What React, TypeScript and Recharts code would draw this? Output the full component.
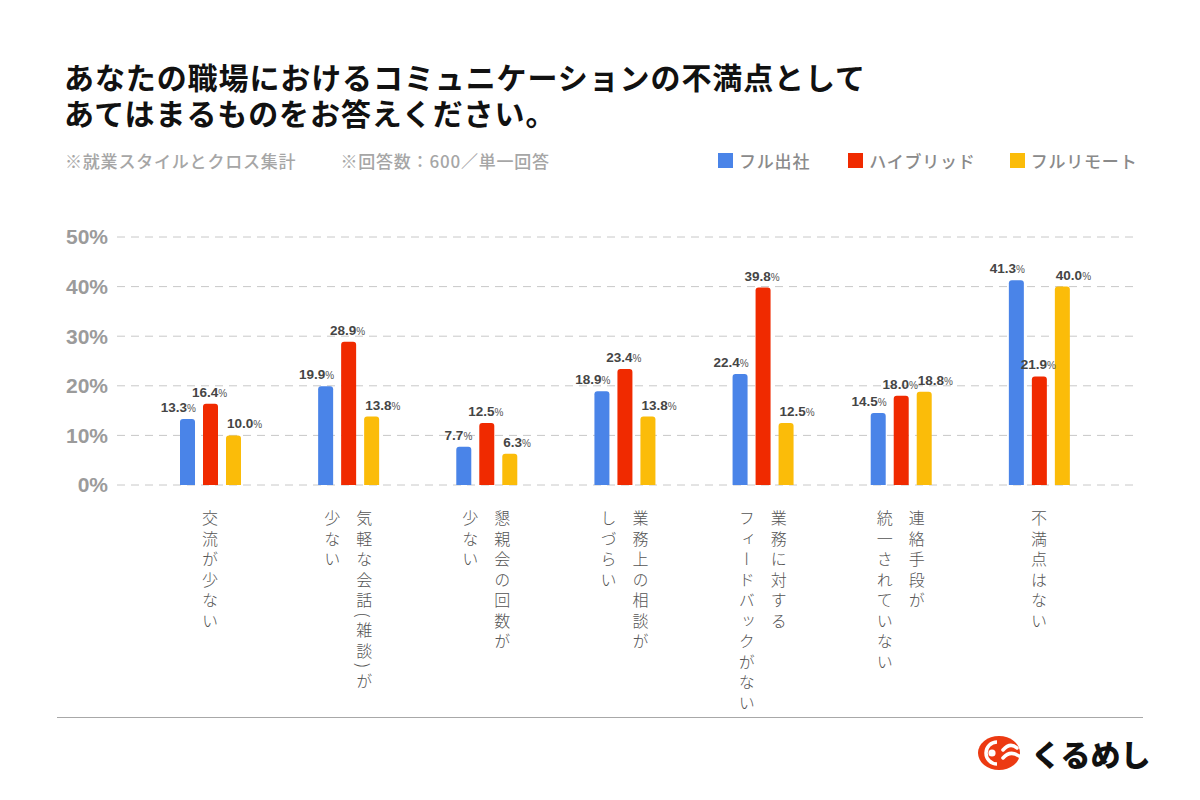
import { Bar, BarChart, CartesianGrid, LabelList, XAxis, YAxis } from "recharts";

// 設問カテゴリ（改行は縦書きの列区切り）
const categories = [
  "交流が少ない",
  "気軽な会話(雑談)が\n少ない",
  "懇親会の回数が\n少ない",
  "業務上の相談が\nしづらい",
  "業務に対する\nフィードバックがない",
  "連絡手段が\n統一されていない",
  "不満点はない",
];

const fullOffice = [13.3, 19.9, 7.7, 18.9, 22.4, 14.5, 41.3];
const hybrid = [16.4, 28.9, 12.5, 23.4, 39.8, 18.0, 21.9];
const fullRemote = [10.0, 13.8, 6.3, 13.8, 12.5, 18.8, 40.0];

const yTicks = [0, 10, 20, 30, 40, 50];

const titleLines = [
  "あなたの職場におけるコミュニケーションの不満点として",
  "あてはまるものをお答えください。",
];

const seriesNames = ["フル出社", "ハイブリッド", "フルリモート"];
const seriesKeys = ["fullOffice", "hybrid", "fullRemote"];
const seriesColors = ["#4a84e8", "#f02a00", "#fbbc09"];

const chartData = categories.map((name, i) => ({
  name,
  fullOffice: fullOffice[i],
  hybrid: hybrid[i],
  fullRemote: fullRemote[i],
}));

const JP_FONT = '"Noto Sans CJK JP", "Noto Sans", sans-serif';
const NUM_FONT = '"Liberation Sans", Arial, sans-serif';

function CategoryTick({ x, y, payload }: any) {
  const lines = String(payload.value).split("\n");
  return (
    <foreignObject x={x - 80} y={y + 25} width={160} height={225}>
      <div style={{ display: "flex", justifyContent: "center", width: "100%" }}>
        <div
          style={{
            writingMode: "vertical-rl",
            fontFamily: JP_FONT,
            fontSize: 16,
            fontWeight: 300,
            letterSpacing: 4.5,
            lineHeight: "32px",
            color: "#555",
            whiteSpace: "nowrap",
          }}
        >
          {lines.map((l, i) => (
            <div key={i}>{l}</div>
          ))}
        </div>
      </div>
    </foreignObject>
  );
}

// 値ラベル：フル出社は右揃え、ハイブリッドは中央、フルリモートは左揃え
function makeValueLabel(anchor: "end" | "middle" | "start") {
  return function ValueLabel(props: any) {
    const { x, y, width, value } = props;
    const lx =
      anchor === "end" ? x + width + 1 : anchor === "middle" ? x + width / 2 - 1 : x + 1;
    return (
      <text x={lx} y={y - 7} textAnchor={anchor} fontFamily={NUM_FONT}>
        <tspan fontSize={13.5} fontWeight={700} fill="#454545">
          {Number(value).toFixed(1)}
        </tspan>
        <tspan fontSize={10} fill="#555">
          %
        </tspan>
      </text>
    );
  };
}

const anchors: ("end" | "middle" | "start")[] = ["end", "middle", "start"];

function Logo() {
  return (
    <div
      style={{
        position: "absolute",
        left: 977,
        top: 731,
        display: "flex",
        alignItems: "center",
      }}
    >
      <svg width={48} height={38} viewBox="0 0 48 38">
        <ellipse cx={22} cy={19} rx={21} ry={17} fill="#ec3a12" />
        <path d="M20 8 A 11 11 0 1 0 20 30" fill="none" stroke="#fff" strokeWidth={3.5} />
        <circle cx={15} cy={19} r={3.6} fill="#fff" />
        <path d="M26 16 Q 33 8 40 14" fill="none" stroke="#fff" strokeWidth={3.5} strokeLinecap="round" />
        <path d="M26 24 Q 33 16 42 22" fill="none" stroke="#fff" strokeWidth={3.5} strokeLinecap="round" />
      </svg>
      <span
        style={{
          fontFamily: JP_FONT,
          fontWeight: 900,
          fontSize: 30,
          color: "#111",
          marginLeft: 6,
        }}
      >
        くるめし
      </span>
    </div>
  );
}

export default function App() {
  return (
    <div
      style={{
        position: "absolute",
        left: 0,
        top: 0,
        width: 1200,
        height: 800,
        background: "#fff",
        fontFamily: JP_FONT,
        overflow: "hidden",
      }}
    >
      {titleLines.map((t, i) => (
        <div
          key={i}
          style={{
            position: "absolute",
            left: 64,
            top: 61 + i * 36,
            fontSize: 30,
            fontWeight: 700,
            letterSpacing: 0.9,
            lineHeight: "30px",
            color: "#111",
            whiteSpace: "nowrap",
          }}
        >
          {t}
        </div>
      ))}

      <div
        style={{
          position: "absolute",
          left: 65,
          top: 148,
          fontSize: 17,
          fontWeight: 500,
          letterSpacing: 0.8,
          color: "#a6a6a6",
          whiteSpace: "nowrap",
        }}
      >
        ※就業スタイルとクロス集計
        <span style={{ marginLeft: 44 }}>※回答数：600／単一回答</span>
      </div>

      <div
        style={{
          position: "absolute",
          left: 718,
          top: 148,
          display: "flex",
          alignItems: "center",
          fontSize: 17,
          fontWeight: 500,
          letterSpacing: 0.8,
          color: "#8a8a8a",
          whiteSpace: "nowrap",
        }}
      >
        {seriesNames.map((n, i) => (
          <div
            key={n}
            style={{ display: "flex", alignItems: "center", marginRight: i === 0 ? 38 : 34 }}
          >
            <span
              style={{
                display: "inline-block",
                width: 15,
                height: 15,
                background: seriesColors[i],
                marginRight: 6,
              }}
            />
            {n}
          </div>
        ))}
      </div>

      <div style={{ position: "absolute", left: 0, top: 0 }}>
        <BarChart
          width={1200}
          height={720}
          data={chartData}
          margin={{ top: 237, right: 65, bottom: 0, left: 0 }}
          barSize={15}
          barGap={8}
        >
          <CartesianGrid vertical={false} stroke="#c8c8c8" strokeDasharray="8 6" />
          <XAxis
            dataKey="name"
            axisLine={false}
            tickLine={false}
            tickSize={0}
            tickMargin={0}
            height={235}
            interval={0}
            padding={{ left: 24, right: 27 }}
            tick={<CategoryTick />}
          />
          <YAxis
            domain={[0, 50]}
            ticks={yTicks}
            width={117}
            axisLine={false}
            tickLine={false}
            tickSize={0}
            tickMargin={9}
            tickFormatter={(v) => `${v}%`}
            tick={{ fill: "#9b9b9b", fontSize: 21, fontWeight: 700, fontFamily: NUM_FONT }}
          />
          {seriesKeys.map((k, i) => (
            <Bar
              key={k}
              dataKey={k}
              name={seriesNames[i]}
              fill={seriesColors[i]}
              radius={[3, 3, 0, 0]}
              isAnimationActive={false}
            >
              <LabelList dataKey={k} content={makeValueLabel(anchors[i])} />
            </Bar>
          ))}
        </BarChart>
      </div>

      <div
        style={{
          position: "absolute",
          left: 57,
          top: 717,
          width: 1086,
          height: 1,
          background: "#a8a8a8",
        }}
      />

      <Logo />
    </div>
  );
}
